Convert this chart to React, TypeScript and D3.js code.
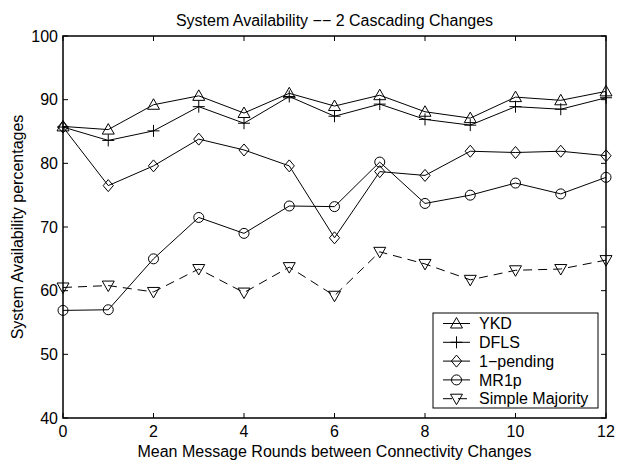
import * as d3 from 'd3';
import React, { useEffect, useRef } from 'react';

const rounds = [0, 1, 2, 3, 4, 5, 6, 7, 8, 9, 10, 11, 12];
const ykd = [85.8, 85.3, 89.2, 90.6, 87.9, 91.0, 89.0, 90.7, 88.1, 87.1, 90.4, 89.9, 91.3];
const dfls = [85.7, 83.6, 85.1, 88.9, 86.3, 90.5, 87.4, 89.3, 86.9, 86.0, 88.9, 88.5, 90.3];
const onePending = [85.7, 76.5, 79.6, 83.8, 82.1, 79.6, 68.3, 78.7, 78.1, 81.9, 81.7, 81.9, 81.2];
const mr1p = [56.9, 57.0, 65.0, 71.5, 69.0, 73.3, 73.2, 80.2, 73.7, 75.0, 76.9, 75.2, 77.8];
const simpleMajority = [60.5, 60.8, 59.8, 63.4, 59.7, 63.7, 59.2, 66.1, 64.2, 61.7, 63.2, 63.4, 64.8];

const seriesNames = ['YKD', 'DFLS', '1\u2212pending', 'MR1p', 'Simple Majority'];
const seriesMarkers = ['triUp', 'plus', 'diamond', 'circle', 'triDown'];
const xTicks = [0, 2, 4, 6, 8, 10, 12];
const yTicks = [40, 50, 60, 70, 80, 90, 100];

const FONT = 'Liberation Sans, Arial, Helvetica, sans-serif';
const FS = '16px';

function drawMarker(g, kind, x, y) {
    const s = 6;
    if (kind === 'triUp') {
        g.append('path')
            .attr('d', `M${x},${y - s} L${x + s},${y + s * 0.75} L${x - s},${y + s * 0.75} Z`)
            .attr('fill', 'none').attr('stroke', '#000');
    } else if (kind === 'triDown') {
        g.append('path')
            .attr('d', `M${x},${y + s} L${x + s},${y - s * 0.75} L${x - s},${y - s * 0.75} Z`)
            .attr('fill', 'none').attr('stroke', '#000');
    } else if (kind === 'plus') {
        g.append('path')
            .attr('d', `M${x - s},${y} L${x + s},${y} M${x},${y - s} L${x},${y + s}`)
            .attr('fill', 'none').attr('stroke', '#000');
    } else if (kind === 'diamond') {
        g.append('path')
            .attr('d', `M${x},${y - s} L${x + s * 0.85},${y} L${x},${y + s} L${x - s * 0.85},${y} Z`)
            .attr('fill', 'none').attr('stroke', '#000');
    } else if (kind === 'circle') {
        g.append('circle')
            .attr('cx', x).attr('cy', y).attr('r', 5)
            .attr('fill', 'none').attr('stroke', '#000');
    }
}

const App = () => {
    const ref = useRef(null);

    useEffect(() => {
        const svg = d3.select(ref.current);
        svg.selectAll('*').remove();

        const margin = { top: 36, right: 13, bottom: 42, left: 63 };
        const W = 619, H = 460;
        const width = W - margin.left - margin.right;
        const height = H - margin.top - margin.bottom;

        const x = d3.scaleLinear().domain([0, 12]).range([margin.left, margin.left + width]);
        const y = d3.scaleLinear().domain([40, 100]).range([margin.top + height, margin.top]);

        const allSeries = [ykd, dfls, onePending, mr1p, simpleMajority];

        const line = d3.line()
            .x((d, i) => x(rounds[i]))
            .y(d => y(d));

        const plot = svg.append('g');
        allSeries.forEach((vals, k) => {
            plot.append('path')
                .datum(vals)
                .attr('d', line)
                .attr('fill', 'none')
                .attr('stroke', '#000')
                .attr('stroke-width', 1)
                .attr('stroke-dasharray', k === 4 ? '9,6' : null);
            vals.forEach((v, i) => drawMarker(plot, seriesMarkers[k], x(rounds[i]), y(v)));
        });

        // box + ticks
        const axes = svg.append('g');
        axes.append('rect')
            .attr('x', margin.left).attr('y', margin.top)
            .attr('width', width).attr('height', height)
            .attr('fill', 'none').attr('stroke', '#000').attr('stroke-width', 1.5);

        const tl = 5;
        xTicks.forEach(t => {
            axes.append('line').attr('x1', x(t)).attr('x2', x(t))
                .attr('y1', y(40)).attr('y2', y(40) - tl).attr('stroke', '#000');
            axes.append('line').attr('x1', x(t)).attr('x2', x(t))
                .attr('y1', y(100)).attr('y2', y(100) + tl).attr('stroke', '#000');
            axes.append('text')
                .attr('x', x(t)).attr('y', y(40) + 19)
                .attr('text-anchor', 'middle')
                .style('font-family', FONT).style('font-size', FS)
                .text(t);
        });
        yTicks.forEach(t => {
            axes.append('line').attr('x1', x(0)).attr('x2', x(0) + tl)
                .attr('y1', y(t)).attr('y2', y(t)).attr('stroke', '#000');
            axes.append('line').attr('x1', x(12)).attr('x2', x(12) - tl)
                .attr('y1', y(t)).attr('y2', y(t)).attr('stroke', '#000');
            axes.append('text')
                .attr('x', x(0) - 5).attr('y', y(t)).attr('dy', '0.35em')
                .attr('text-anchor', 'end')
                .style('font-family', FONT).style('font-size', FS)
                .text(t);
        });

        svg.append('text')
            .attr('x', margin.left + width / 2).attr('y', 26)
            .attr('text-anchor', 'middle')
            .style('font-family', FONT).style('font-size', FS)
            .text('System Availability \u2212\u2212 2 Cascading Changes');

        svg.append('text')
            .attr('x', margin.left + width / 2).attr('y', 457)
            .attr('text-anchor', 'middle')
            .style('font-family', FONT).style('font-size', FS)
            .text('Mean Message Rounds between Connectivity Changes');

        svg.append('text')
            .attr('transform', `translate(23, ${margin.top + height / 2}) rotate(-90)`)
            .attr('text-anchor', 'middle')
            .style('font-family', FONT).style('font-size', FS)
            .text('System Availability percentages');

        // legend
        const lg = svg.append('g');
        const lx = 433, ly = 313, lw = 165, lh = 95;
        lg.append('rect').attr('x', lx).attr('y', ly).attr('width', lw).attr('height', lh)
            .attr('fill', '#fff').attr('stroke', '#000').attr('stroke-width', 1);
        seriesNames.forEach((name, k) => {
            const yy = ly + 10.5 + k * 18.8;
            lg.append('line').attr('x1', lx + 10).attr('x2', lx + 37)
                .attr('y1', yy).attr('y2', yy).attr('stroke', '#000')
                .attr('stroke-dasharray', k === 4 ? '9,6' : null);
            drawMarker(lg, seriesMarkers[k], lx + 23.5, yy);
            lg.append('text').attr('x', lx + 46).attr('y', yy).attr('dy', '0.35em')
                .style('font-family', FONT).style('font-size', FS)
                .text(name);
        });
    }, []);

    return (
        <svg ref={ref} width={619} height={460}
            style={{ position: 'absolute', left: 0, top: 0, background: '#fff' }} />
    );
};

export default App;
